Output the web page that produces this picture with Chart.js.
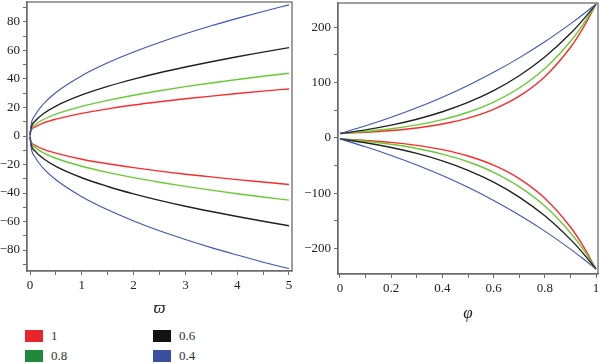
<!DOCTYPE html>
<html>
<head>
<meta charset="utf-8">
<script src="https://cdn.jsdelivr.net/npm/chart.js@4"></script>
<style>
  body { margin: 0; background: #fff; width: 600px; height: 364px; position: relative; overflow: hidden; font-family: "Liberation Serif", "DejaVu Serif", serif; }
  #left { position: absolute; left: 0; top: 0; }
  #right { position: absolute; left: 300px; top: 0; }
  .key { position: absolute; font-size: 13px; color: #333; font-weight: normal; line-height: 12px; }
  .key span.box { display: inline-block; width: 18px; height: 12px; vertical-align: top; margin-right: 8px; }
</style>
</head>
<body>
<canvas id="left" width="300" height="320"></canvas>
<canvas id="right" width="300" height="330"></canvas>
<div id="legend"></div>
<script>
// parameter values and colours
const params = ['1', '0.8', '0.6', '0.4'];
const lineColors = ['#ff2a2a', '#66cc33', '#222222', '#3a55c0'];
const keyColors = ['#e8242c', '#1f8a3c', '#111111', '#3a4fa0'];

// left panel (varpi)
const leftX = [0, 0.02, 0.1, 0.25, 0.5, 1, 1.5, 2, 2.5, 3, 3.5, 4, 4.5, 5];
const redUpL = [0.5, 4, 6.4, 9, 11.8, 15.9, 19, 21.7, 24, 26.1, 28, 29.8, 31.5, 33];
const greenUpL = [0.5, 4.7, 7.9, 11.4, 15.3, 20.8, 25, 28.6, 31.7, 34.6, 37.2, 39.6, 41.9, 44];
const blackUpL = [0.5, 5.8, 10.5, 15.4, 21, 28.8, 34.8, 39.9, 44.4, 48.4, 52.1, 55.6, 58.8, 62];
const blueUpL = [0.5, 7.7, 14.7, 22.1, 30.5, 42.3, 51.3, 58.9, 65.6, 71.7, 77.3, 82.5, 87.4, 92];
const redLowL = [-0.5, -4, -6.5, -9.2, -12, -16.3, -19.5, -22.2, -24.6, -26.8, -28.7, -30.6, -32.3, -34];
const greenLowL = [-0.5, -4.7, -8, -11.6, -15.6, -21.2, -25.5, -29.2, -32.4, -35.3, -38, -40.5, -42.8, -45];
const blackLowL = [-0.5, -5.9, -10.6, -15.6, -21.3, -29.3, -35.4, -40.6, -45.2, -49.3, -53, -56.5, -59.8, -63];
const blueLowL = [-0.5, -7.8, -14.9, -22.4, -30.7, -42.6, -51.8, -59.6, -66.5, -72.6, -78.3, -83.5, -88.5, -93];

// right panel (phi)
const rightX = [0, 0.1, 0.2, 0.3, 0.4, 0.5, 0.6, 0.7, 0.8, 0.9, 0.95, 1];
const redUpR = [8, 10.1, 13.4, 18.1, 25.3, 35.9, 51.8, 75.5, 110.8, 163.6, 199, 242];
const greenUpR = [8, 11.6, 16.6, 23.6, 33.2, 46.5, 64.9, 90.3, 125.5, 174.3, 205.3, 242];
const blackUpR = [8, 14.7, 23.2, 33.9, 47.4, 64.3, 85.6, 112.5, 146.3, 188.7, 214, 242];
const blueUpR = [8, 21.9, 37.5, 54.6, 73.8, 95, 118.6, 144.8, 173.8, 206.2, 223.6, 242];
const redLowR = [-2, -4.5, -8.1, -13.4, -21.2, -32.6, -49.2, -73.5, -109, -161, -195.5, -237];
const greenLowR = [-2, -6, -11.5, -19, -29.2, -43.1, -62.1, -88, -123.2, -171.3, -201.5, -237];
const blackLowR = [-2, -8.8, -17.3, -28, -41.5, -58.5, -79.9, -106.9, -140.8, -183.4, -208.7, -237];
const blueLowR = [-2, -16, -31.6, -48.8, -68, -89.3, -113, -139.3, -168.5, -201, -218.5, -237];

const leftX_ticks = [0, 0.5, 1, 1.5, 2, 2.5, 3, 3.5, 4, 4.5, 5];
const leftY_ticks = [-90, -80, -70, -60, -50, -40, -30, -20, -10, 0, 10, 20, 30, 40, 50, 60, 70, 80, 90];
const rightX_ticks = [0, 0.1, 0.2, 0.3, 0.4, 0.5, 0.6, 0.7, 0.8, 0.9, 1];
const rightY_ticks = [-200, -150, -100, -50, 0, 50, 100, 150, 200];

const tickFont = { family: '"Liberation Serif", serif', size: 13 };
const frameGray = '#6b6b6b';

function pts(xs, ys) {
    return xs.map((x, i) => ({ x: x, y: ys[i] }));
}

function makeSets(xs, groups) {
    // blue first so it is drawn on top
    const out = [];
    [3, 2, 1, 0].forEach(k => {
        groups[k].forEach(ys => {
            out.push({
                label: params[k],
                data: pts(xs, ys),
                borderColor: lineColors[k],
                borderWidth: k === 3 ? 1.1 : 1.4,
                pointRadius: 0,
                cubicInterpolationMode: 'monotone',
                fill: false
            });
        });
    });
    return out;
}

const minus = v => String(v).replace('-', '\u2212');

const frame = {
    id: 'frame',
    afterDatasetsDraw(chart) {
        const a = chart.chartArea, c = chart.ctx;
        c.save();
        c.strokeStyle = frameGray;
        c.lineWidth = 1.3;
        c.strokeRect(a.left, a.top, a.right - a.left, a.bottom - a.top);
        c.restore();
    }
};

// fixed axis boxes, no automatic padding for edge labels
const fixW = w => s => { s.width = w; s.paddingTop = 0; s.paddingBottom = 0; };
const fixH = h => s => { s.height = h; s.paddingLeft = 0; s.paddingRight = 0; };

function axis(min, max, ticks, labelFn, extra) {
    return Object.assign({
        type: 'linear',
        min: min,
        max: max,
        afterBuildTicks: s => { s.ticks = ticks.map(v => ({ value: v })); },
        grid: { display: true, drawOnChartArea: false, tickLength: 4, tickColor: frameGray, tickWidth: 1 },
        border: { display: true, color: frameGray, width: 1.3 },
        ticks: { autoSkip: false, maxRotation: 0, font: tickFont, color: '#222', padding: 3, callback: labelFn }
    }, extra);
}

new Chart(document.getElementById('left'), {
    type: 'line',
    data: { datasets: makeSets(leftX, [[redUpL, redLowL], [greenUpL, greenLowL], [blackUpL, blackLowL], [blueUpL, blueLowL]]) },
    options: {
        responsive: false,
        animation: false,
        layout: { autoPadding: false, padding: { top: 2, right: 8, left: 0, bottom: 0 } },
        plugins: { legend: { display: false }, tooltip: { enabled: false } },
        scales: {
            x: axis(-0.058, 5.058, leftX_ticks, v => Number.isInteger(v) ? String(v) : '', {
                afterFit: fixH(49),
                title: { display: true, text: 'ϖ', font: { family: '"Liberation Serif", serif', size: 17, style: 'italic' }, color: '#222', padding: { top: 0, bottom: 1 } }
            }),
            y: axis(-94.7, 94, leftY_ticks, v => v % 20 === 0 ? minus(v) : '', {
                afterFit: fixW(27)
            })
        }
    },
    plugins: [frame]
});

new Chart(document.getElementById('right'), {
    type: 'line',
    data: { datasets: makeSets(rightX, [[redUpR, redLowR], [greenUpR, greenLowR], [blackUpR, blackLowR], [blueUpR, blueLowR]]) },
    options: {
        responsive: false,
        animation: false,
        layout: { autoPadding: false, padding: { top: 3, right: 2, left: 0, bottom: 0 } },
        plugins: { legend: { display: false }, tooltip: { enabled: false } },
        scales: {
            x: axis(-0.0078, 1.0078, rightX_ticks, v => (Math.round(v * 10) % 2 === 0) ? String(v) : '', {
                afterFit: fixH(56),
                title: { display: true, text: 'φ', font: { family: '"Liberation Serif", serif', size: 17, style: 'italic' }, color: '#222', padding: { top: 0, bottom: 6 } }
            }),
            y: axis(-246, 244, rightY_ticks, v => v % 100 === 0 ? minus(v) : '', {
                afterFit: fixW(38)
            })
        }
    },
    plugins: [frame]
});

// legend, two columns: 1 / 0.8 on the left, 0.6 / 0.4 on the right
const legendPos = [[25, 330], [25, 350], [153, 330], [153, 350]];
const legend = document.getElementById('legend');
params.forEach((p, i) => {
    const d = document.createElement('div');
    d.className = 'key';
    d.style.left = legendPos[i][0] + 'px';
    d.style.top = legendPos[i][1] + 'px';
    d.innerHTML = '<span class="box" style="background:' + keyColors[i] + '"></span>' + p;
    legend.appendChild(d);
});
</script>
</body>
</html>
